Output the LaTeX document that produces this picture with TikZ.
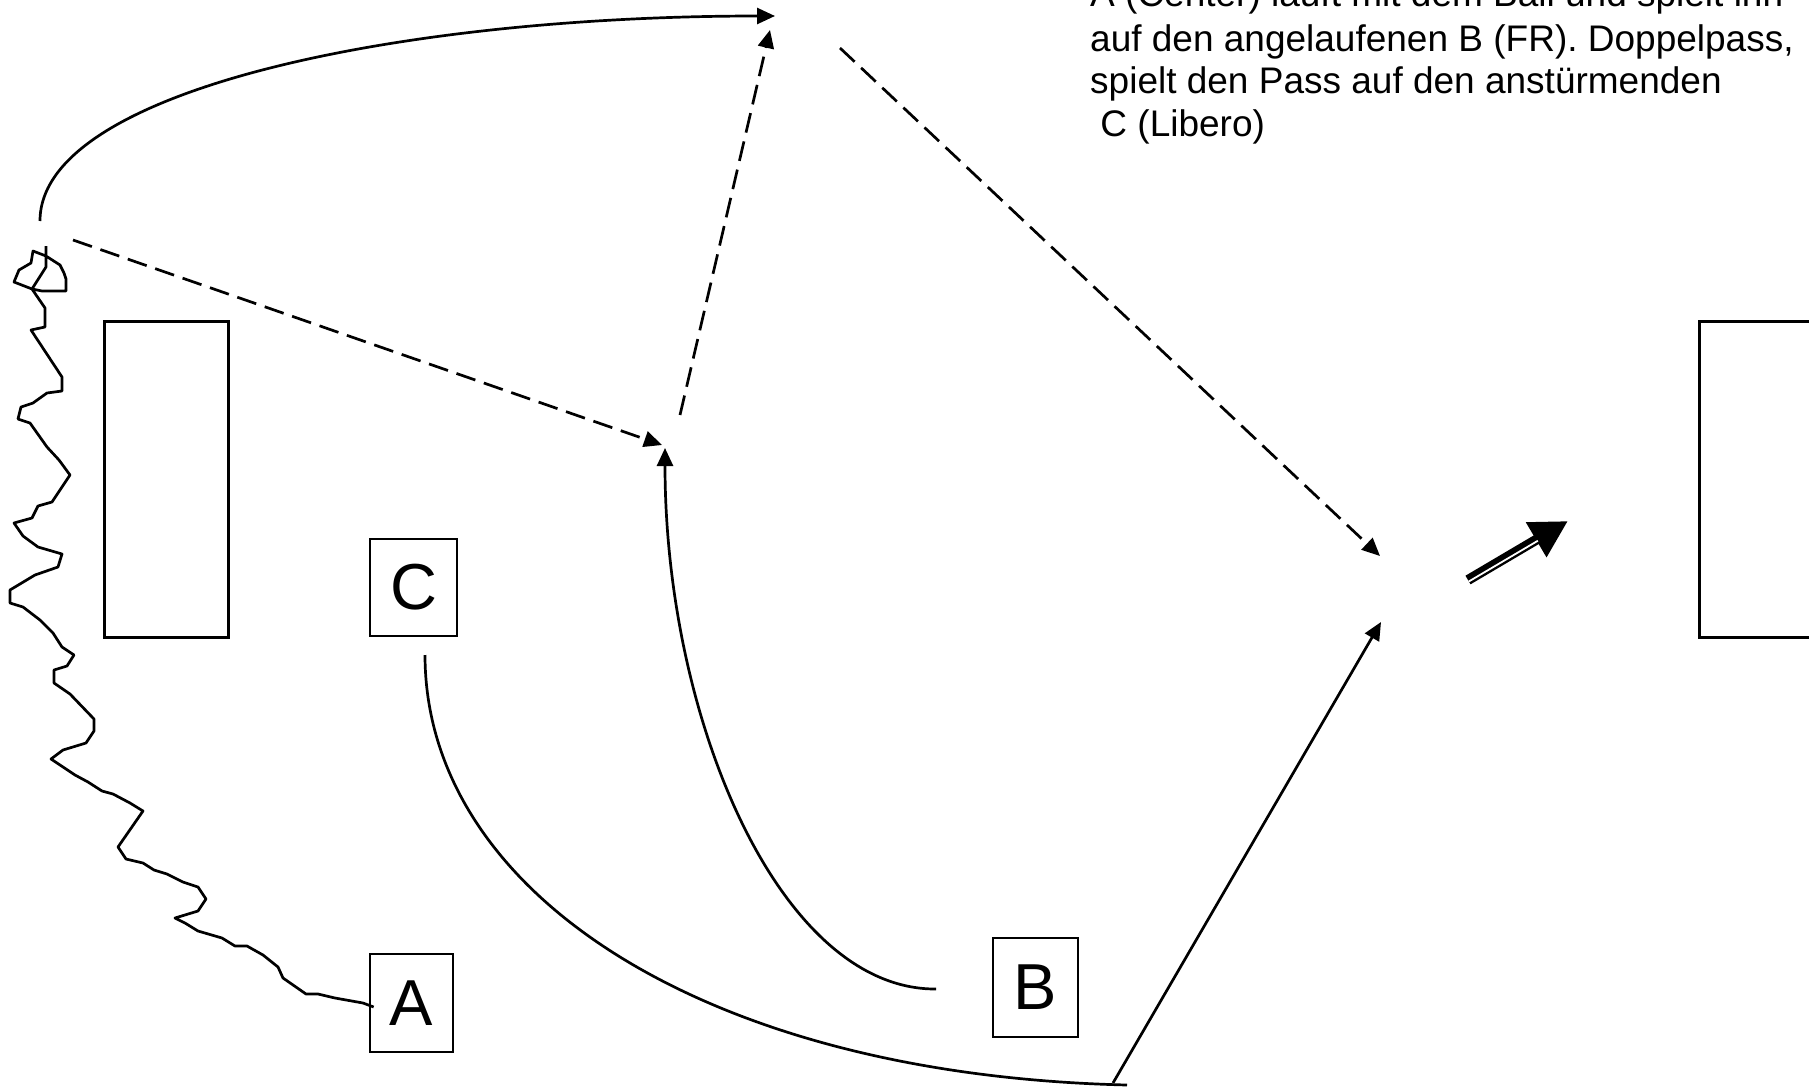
\documentclass[tikz,border=0pt]{standalone}
\usepackage{fontspec}
\setmainfont{Liberation Sans}
\usetikzlibrary{arrows.meta,calc}
\begin{document}
\begin{tikzpicture}[x=1pt,y=-1pt,
  ln/.style={line width=2.7pt},
  tip/.style={-{Triangle[length=18pt,width=16pt]}},
  dsh/.style={ln, dash pattern=on 20pt off 9pt},
  player/.style={draw, line width=2.7pt, inner sep=0pt, font=\fontsize{65}{78}\selectfont},
  goal/.style={draw, line width=3pt, inner sep=0pt},
  note/.style={anchor=base west, inner sep=0pt, font=\fontsize{37}{42.7}\selectfont}
]
\useasboundingbox (0,0) rectangle (1809,1087);

% goals
\node[goal, minimum width=124pt, minimum height=316pt] (goalL) at (166,479) {};
\node[goal, minimum width=125pt, minimum height=316pt] (goalR) at (1762,479) {};

% players
\node[player, minimum width=87pt, minimum height=97pt] (C) at (413.5,587.5) {C};
\node[player, minimum width=83pt, minimum height=98pt] (A) at (411.5,1003) {A};
\node[player, minimum width=85pt, minimum height=99pt] (B) at (1035.5,987.5) {B};

% text
\node[note] (t1) at (1090,6) {A (Center) läuft mit dem Ball und spielt ihn};
\node[note] (t2) at (1090,51) {auf den angelaufenen B (FR). Doppelpass,};
\node[note] (t3) at (1090,93.5) {spielt den Pass auf den anstürmenden};
\node[note] (t4) at (1090,136) {\ C (Libero)};

% coordinates
\coordinate (arcS) at (40,221);
\coordinate (arcE) at (775,16);
\coordinate (d1s) at (73,240);
\coordinate (d1e) at (662,445);
\coordinate (d2s) at (680,415);
\coordinate (d2e) at (770,30);
\coordinate (d3s) at (840,48);
\coordinate (d3e) at (1380,556);
\coordinate (bS) at (936,989);
\coordinate (bE) at (665,448);
\coordinate (cS) at (425,655);
\coordinate (cE) at (1127,1085);
\coordinate (lS) at (1113,1083);
\coordinate (lE) at (1381,622);
\coordinate (kS) at (1468,580);
\coordinate (kE) at (1568,521);
\coordinate (wTop) at (46,246);

% dribble (wavy run of A)
\draw[ln, line join=round] (wTop) -- (46,256) -- (60,265) -- (64,273) -- (66,279) -- (66,291) -- (42,291) -- (32,289) -- (46,267) -- (46,256) -- (33,251) -- (31,263) -- (19,270) -- (14,282) -- (32,289) -- (45,308) -- (45,327) -- (31,330) -- (62,377) -- (62,391) -- (47,393) -- (33,403) -- (21,407) -- (18,419) -- (30,423) -- (47,447) -- (59,460) -- (70,475) -- (52,502) -- (38,506) -- (32,518) -- (14,523) -- (23,536) -- (38,547) -- (62,554) -- (58,567) -- (35,575) -- (10,590) -- (10,603) -- (23,607) -- (40,620) -- (53,633) -- (62,647) -- (74,655) -- (67,666) -- (54,670) -- (54,683) -- (70,694) -- (94,719) -- (94,731) -- (86,743) -- (63,750) -- (51,759) -- (75,775) -- (88,782) -- (102,791) -- (113,794) -- (130,803) -- (143,811) -- (118,847) -- (126,859) -- (143,863) -- (154,870) -- (167,874) -- (183,882) -- (198,887) -- (206,899) -- (198,911) -- (175,918) -- (185,923) -- (198,931) -- (222,938) -- (235,946) -- (247,946) -- (263,955) -- (278,967) -- (283,978) -- (306,994) -- (318,994) -- (335,998) -- (363,1003) -- ($(A.west)+(5,4)$);

% runs and passes
\draw[ln, tip] (arcS) .. controls (40,90) and (400,16) .. (arcE);
\draw[dsh, tip] (d1s) -- (d1e);
\draw[dsh, tip] (d2s) -- (d2e);
\draw[dsh, tip] (d3s) -- (d3e);
\draw[ln, tip] (bS) .. controls (780,990) and (665,720) .. (bE);
\draw[ln] (cS) .. controls (425,890) and (700,1075) .. (cE);
\draw[ln, tip] (lS) -- (lE);

% shot arrow (double line)
\draw[line width=10pt, -{Triangle[length=37pt,width=38pt]}] (kS) -- (kE);
\draw[white, line width=1.8pt, shorten >=36pt] ($(kS)+(0.85,1.45)$) -- ($(kE)+(0.85,1.45)$);
\end{tikzpicture}
\end{document}
